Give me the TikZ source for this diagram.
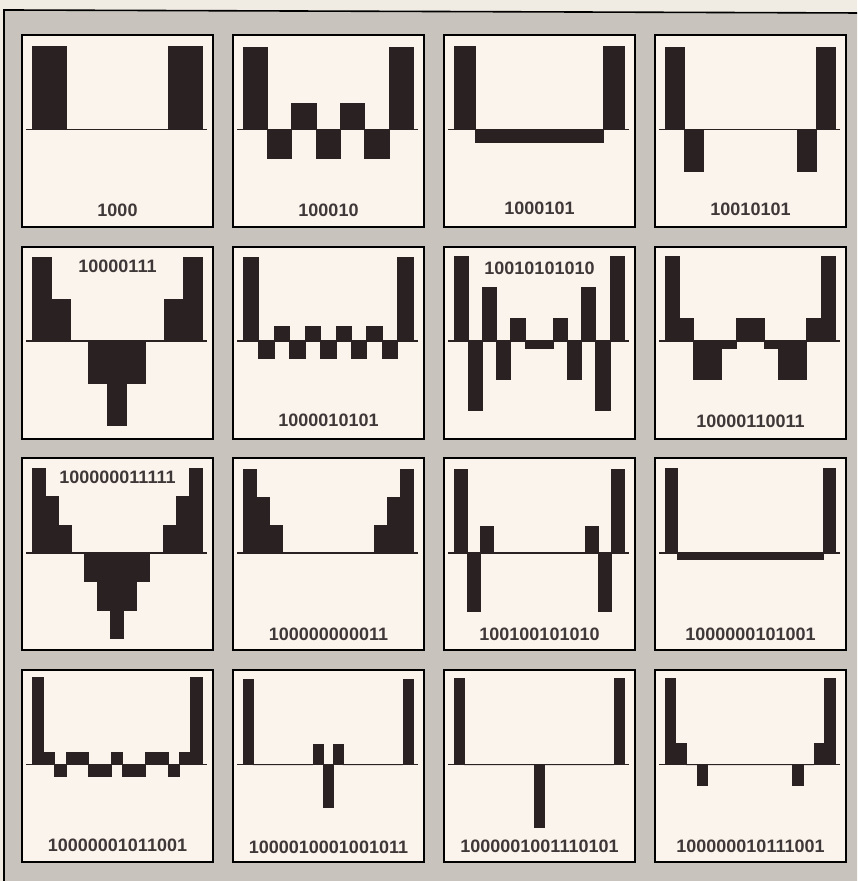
\documentclass[tikz,border=0pt]{standalone}
\usepackage{fontspec}
\setmainfont{Liberation Sans}
\usepackage{tikz}

\definecolor{paper}{RGB}{240,235,227}
\definecolor{board}{RGB}{200,196,189}
\definecolor{card}{RGB}{251,244,237}
\definecolor{ink}{RGB}{42,34,34}

% one row of bars: axis point, number of slots, heights (px, up is +)
\newcommand{\barset}[3]{%
  \begin{scope}[shift={(#1)}]
    \draw[axis] (5,0) -- (186,0);
    \pgfmathsetmacro{\slotw}{170/#2}
    \foreach \h [count=\i from 0] in {#3}
      \filldraw[bar] (11+\i*\slotw,0) rectangle ++(\slotw,\h);
  \end{scope}}

\begin{document}
\begin{tikzpicture}[x=0.5pt,y=0.5pt,
  panel/.style={draw=black, line width=1pt, fill=card, anchor=north west,
    minimum width=95.5pt, minimum height=96pt, inner sep=0pt},
  bar/.style={fill=ink, draw=ink, line width=0.2pt},
  axis/.style={draw=ink, line width=0.85pt},
  lbl/.style={font=\fontsize{9}{10}\selectfont\bfseries, text=ink!90, inner sep=0pt}]
\useasboundingbox (0,0) rectangle (857,881);
\fill[paper] (0,0) rectangle (857,881);
\fill[board] (4,0) -- (4,871) -- (857,868) -- (857,0) -- cycle;
\draw[line width=0.8pt] (4,0) -- (4,871) -- (857,868);

% the 16 cards
\foreach \r in {0,...,3}
  \foreach \c in {0,...,3}{
    \pgfmathtruncatemacro{\k}{4*\r+\c+1}
    \node[panel] (p\k) at ({21+211*\c},{847-211.7*\r}) {};
    \coordinate (a\k) at ([yshift=-47.75pt]p\k.north west);
  }

% row 1
\barset{a1}{5}{83,0,0,0,83}
\barset{a2}{7}{82,-29,26,-29,26,-29,82}
\barset{a3}{8}{83,-13,-13,-13,-13,-13,-13,83}
\barset{a4}{9}{82,-42,0,0,0,0,0,-42,82}
% row 2
\barset{a5}{9}{84,42,0,-42,-84,-42,0,42,84}
\barset{a6}{11}{84,-17,15,-17,15,-17,15,-17,15,-17,84}
\barset{a7}{12}{85,-69,54,-38,23,-7,-7,23,-38,54,-69,85}
\barset{a8}{12}{85,23,-38,-38,-7,23,23,-7,-38,-38,23,85}
% row 3
\barset{a9}{13}{85,57,28,0,-28,-57,-85,-57,-28,0,28,57,85}
\barset{a10}{13}{84,56,28,0,0,0,0,0,0,0,28,56,84}
\barset{a11}{13}{84,-58,27,0,0,0,0,0,0,0,27,-58,84}
\barset{a12}{14}{85,-6,-6,-6,-6,-6,-6,-6,-6,-6,-6,-6,-6,85}
% row 4
\barset{a13}{15}{87,12,-12,12,12,-12,-12,12,-12,-12,12,12,-12,12,87}
\barset{a14}{17}{85,0,0,0,0,0,0,20,-43,20,0,0,0,0,0,0,85}
\barset{a15}{17}{86,0,0,0,0,0,0,0,-63,0,0,0,0,0,0,0,86}
\barset{a16}{16}{86,21,0,-21,0,0,0,0,0,0,0,0,-21,0,21,86}

% labels
\node[lbl] (l1) at ([yshift=9pt]p1.south) {1000};
\node[lbl] (l2) at ([yshift=9pt]p2.south) {100010};
\node[lbl] (l3) at ([yshift=10pt]p3.south) {1000101};
\node[lbl] (l4) at ([yshift=9.5pt]p4.south) {10010101};
\node[lbl] (l5) at ([yshift=-10.5pt]p5.north) {10000111};
\node[lbl] (l6) at ([yshift=9.5pt]p6.south) {1000010101};
\node[lbl] (l7) at ([yshift=-11.5pt]p7.north) {10010101010};
\node[lbl] (l8) at ([yshift=9pt]p8.south) {10000110011};
\node[lbl] (l9) at ([yshift=-10pt]p9.north) {100000011111};
\node[lbl] (l10) at ([yshift=8.5pt]p10.south) {100000000011};
\node[lbl] (l11) at ([yshift=8.5pt]p11.south) {100100101010};
\node[lbl] (l12) at ([yshift=8.5pt]p12.south) {1000000101001};
\node[lbl] (l13) at ([yshift=9pt]p13.south) {10000001011001};
\node[lbl] (l14) at ([yshift=8pt]p14.south) {1000010001001011};
\node[lbl] (l15) at ([yshift=8.5pt]p15.south) {1000001001110101};
\node[lbl] (l16) at ([yshift=8.5pt]p16.south) {100000010111001};
\end{tikzpicture}
\end{document}
